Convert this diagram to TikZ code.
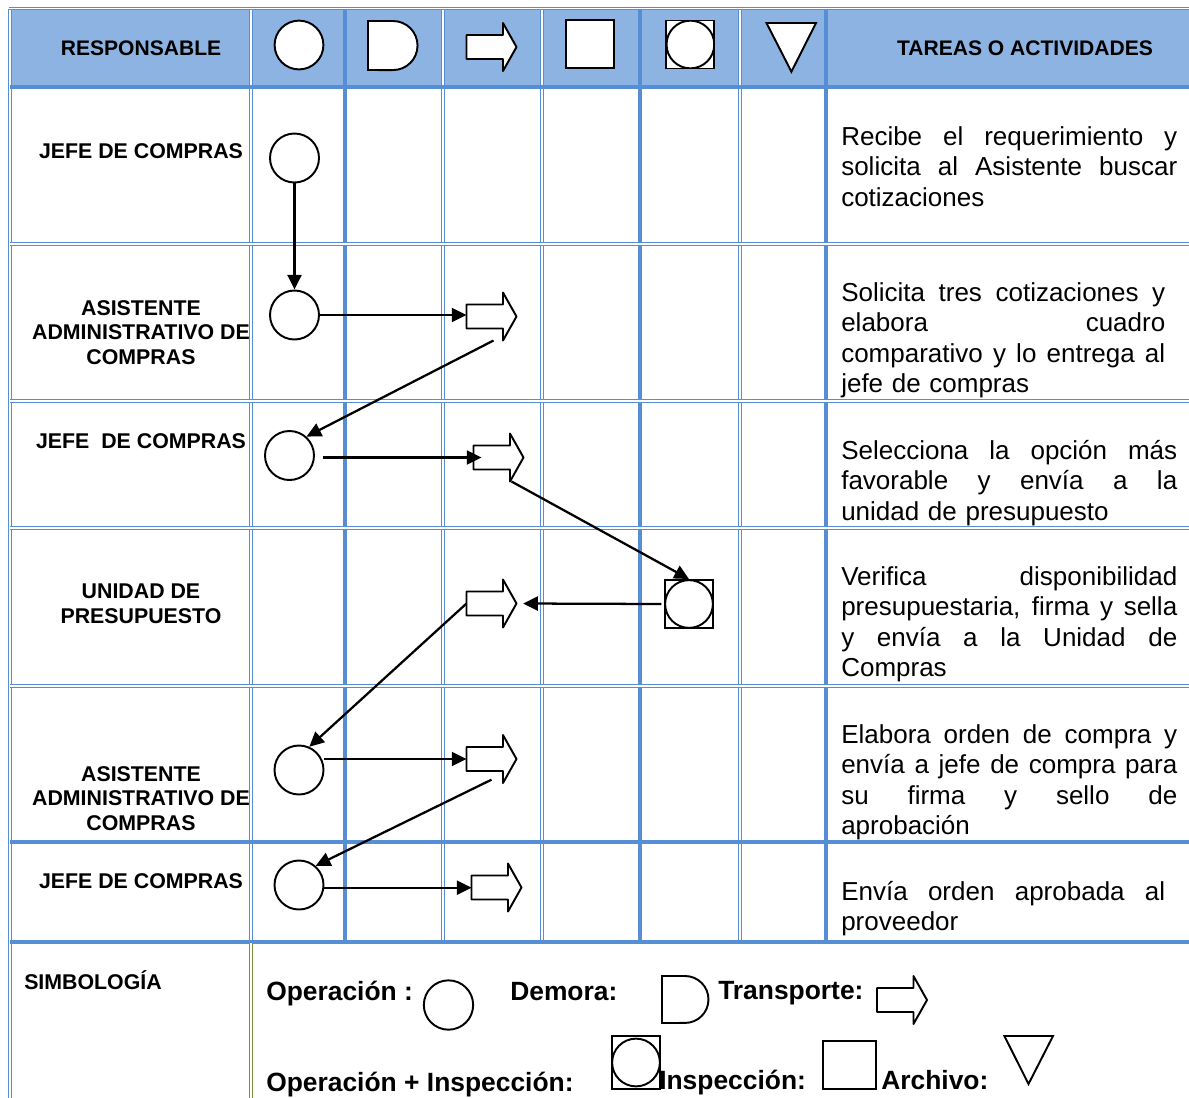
\documentclass[tikz,border=0pt]{standalone}
\usepackage{fontspec}
\setmainfont{Liberation Sans}
\usetikzlibrary{arrows.meta}
\definecolor{gridblue}{RGB}{85,142,213}
\definecolor{headfill}{RGB}{141,179,226}
\definecolor{olivegreen}{RGB}{119,147,60}
\newcommand{\jl}[2][252pt]{\leavevmode\hbox to #1{\spaceskip=0.278em plus 1fil\relax #2}}
\tikzset{
  gdouble/.style={draw=gridblue, line width=0.85pt, double=white, double distance=1.2pt},
  gthick/.style={draw=gridblue, line width=2.6pt},
  shp/.style={draw=black, line width=1.45pt, fill=white},
  opc/.style={shp, circle, minimum size=36.75pt, inner sep=0pt},
  sq/.style={shp, rectangle, minimum size=36pt, inner sep=0pt},
  oi/.style={shp, rectangle, minimum width=36pt, minimum height=36pt, inner sep=0pt,
    path picture={\draw[line width=1.45pt] (path picture bounding box.center) circle[radius=17.9pt];}},
  transp/.style={rectangle, inner sep=0pt, minimum width=40.5pt, minimum height=39pt, outer sep=-1.5pt,
    path picture={\filldraw[shp, line join=round, shift={(path picture bounding box.center)}]
      (-18.75pt,9pt) -- (8.6pt,9pt) -- (8.6pt,18pt) -- (18.75pt,0pt) -- (8.6pt,-18pt)
      -- (8.6pt,-9pt) -- (-18.75pt,-9pt) -- cycle;}},
  flow/.style={line width=1.7pt, -{Triangle[length=11pt,width=10.5pt]}},
  hdr/.style={font=\bfseries\fontsize{15.8}{18.4}\selectfont, inner sep=0pt},
  lbl/.style={font=\bfseries\fontsize{16}{18.4}\selectfont, align=center, inner sep=0pt},
  task/.style={font=\fontsize{19.5}{22.9}\selectfont, align=left, inner sep=0pt, anchor=base west, text width=252pt},
  taskn/.style={task, text width=243pt},
  leg/.style={font=\bfseries\fontsize{19.8}{22}\selectfont, anchor=base west, inner sep=0pt}
}
\begin{document}
\begin{tikzpicture}[x=0.75pt, y=-0.75pt]
\useasboundingbox (0,0) rectangle (1189,1097);
\fill[white] (0,0) rectangle (1189,1097);
% header fill
\fill[headfill] (10,10) rectangle (1189,87);
% grid
\foreach \x in {251,443,542,740} \draw[gdouble] (\x,8.5) -- (\x,942);
\foreach \x in {345,640,826} \draw[gthick] (\x,8.5) -- (\x,942);
\draw[gdouble] (10,8.5) -- (10,1100);
\draw[gdouble] (8.5,8.5) -- (1189,8.5);
\foreach \y in {244,401,528,686} \draw[gdouble] (10,\y) -- (1189,\y);
\foreach \y in {87,842,942} \draw[gthick] (10,\y) -- (1189,\y);
\draw[gdouble, draw=olivegreen] (251,943) -- (251,1100);

% header
\node[hdr] (hresp) at (141,48) {RESPONSABLE};
\node[hdr] (htar) at (1025,48) {TAREAS O ACTIVIDADES};
\node[opc, minimum size=36.6pt] (h1) at (299,45) {};
\filldraw[shp] (368,70) -- (368,21) -- (393,21) arc[start angle=90, end angle=-90, radius=18.4pt] -- cycle;
\node[transp] (h3) at (491.5,47) {};
\node[sq] (h4) at (590,44) {};
\node[oi] (h5) at (690.4,44.5) {};
\filldraw[shp] (766.5,23) -- (816,23) -- (791.4,71.7) -- cycle;

% responsables
\node[lbl] (r1) at (141,151) {JEFE DE COMPRAS};
\node[lbl] (r2) at (141,332.5) {ASISTENTE\\ADMINISTRATIVO DE\\COMPRAS};
\node[lbl] (r3) at (141,441) {JEFE\ \ DE COMPRAS};
\node[lbl] (r4) at (141,603.5) {UNIDAD DE\\PRESUPUESTO};
\node[lbl] (r5) at (141,798.5) {ASISTENTE\\ADMINISTRATIVO DE\\COMPRAS};
\node[lbl] (r6) at (141,881) {JEFE DE COMPRAS};

% tasks
\node[task] (a1) at (841,145) {\jl{Recibe el requerimiento y}\\\jl{solicita al Asistente buscar}\\cotizaciones};
\node[taskn] (a2) at (841,301) {\jl[243pt]{Solicita tres cotizaciones y}\\\jl[243pt]{elabora cuadro}\\\jl[243pt]{comparativo y lo entrega al}\\jefe de compras};
\node[task] (a3) at (841,459) {\jl{Selecciona la opción más}\\\jl{favorable y envía a la}\\unidad de presupuesto};
\node[task] (a4) at (841,585) {\jl{Verifica disponibilidad}\\\jl{presupuestaria, firma y sella}\\\jl{y envía a la Unidad de}\\Compras};
\node[task] (a5) at (841,743) {\jl{Elabora orden de compra y}\\\jl{envía a jefe de compra para}\\\jl{su firma y sello de}\\aprobación};
\node[taskn] (a6) at (841,900) {\jl[243pt]{Envía orden aprobada al}\\proveedor};

% flow symbols
\node[opc] (c1) at (294.5,158) {};
\node[opc] (c2) at (294.5,315) {};
\node[transp] (t2) at (491.5,316.5) {};
\node[opc] (c3) at (289.5,455.5) {};
\node[transp] (t3) at (498.5,457.5) {};
\node[oi] (o4) at (689,604) {};
\node[transp] (t4) at (491.5,603.5) {};
\node[opc] (c5) at (299,770) {};
\node[transp] (t5) at (491.5,759) {};
\node[opc] (c6) at (299,885) {};
\node[transp] (t6) at (496.5,887.5) {};

% connectors
\draw[flow] (c1) -- (c2);
\draw[flow] (c2.east) -- (c2.east -| t2.west);
\draw[flow] ([xshift=1.5pt]t2.south) -- (c3.48);
\draw[flow] ([xshift=6pt,yshift=-1.5pt]c3.east) -- ([xshift=6pt,yshift=-1.5pt]c3.east -| t3.west);
\draw[flow] ([xshift=-9pt]t3.south east) -- (o4.north);
\draw[flow] ([xshift=-2pt]o4.west) -- ([xshift=5pt]t4.east);
\draw[flow] (t4.west) -- (c5.66);
\draw[flow] (c5.east |- t5.west) -- (t5.west);
\draw[flow] ([yshift=2.5pt]t5.south) -- (c6.49);
\draw[flow] ([yshift=-2pt]c6.east) -- ([yshift=-2pt]c6.east -| t6.west);

% legend
\node[lbl, anchor=base west] (simb) at (24,989) {SIMBOLOGÍA};
\node[leg] (l1) at (266,1000) {Operación :};
\node[opc, minimum size=37pt] (lc) at (448.5,1005) {};
\node[leg] (l2) at (510,1000) {Demora:};
\filldraw[shp] (662,1023) -- (662,976) -- (685,976) arc[start angle=90, end angle=-90, radius=17.6pt] -- cycle;
\node[leg] (l3) at (718,999) {Transporte:};
\node[transp] (lt) at (902,1000) {};
\node[leg] (l4) at (266,1091) {Operación + Inspección:};
\node[oi, minimum height=39.75pt] (lo) at (636,1062.5) {};
\node[leg] (l5) at (659,1089) {Inspección:};
\node[sq, minimum width=39.75pt, minimum height=36.45pt] (ls) at (849.7,1065) {};
\node[leg] (l6) at (881,1089) {Archivo:};
\filldraw[shp] (1004.4,1036) -- (1053,1036) -- (1028.5,1084) -- cycle;
\end{tikzpicture}
\end{document}
